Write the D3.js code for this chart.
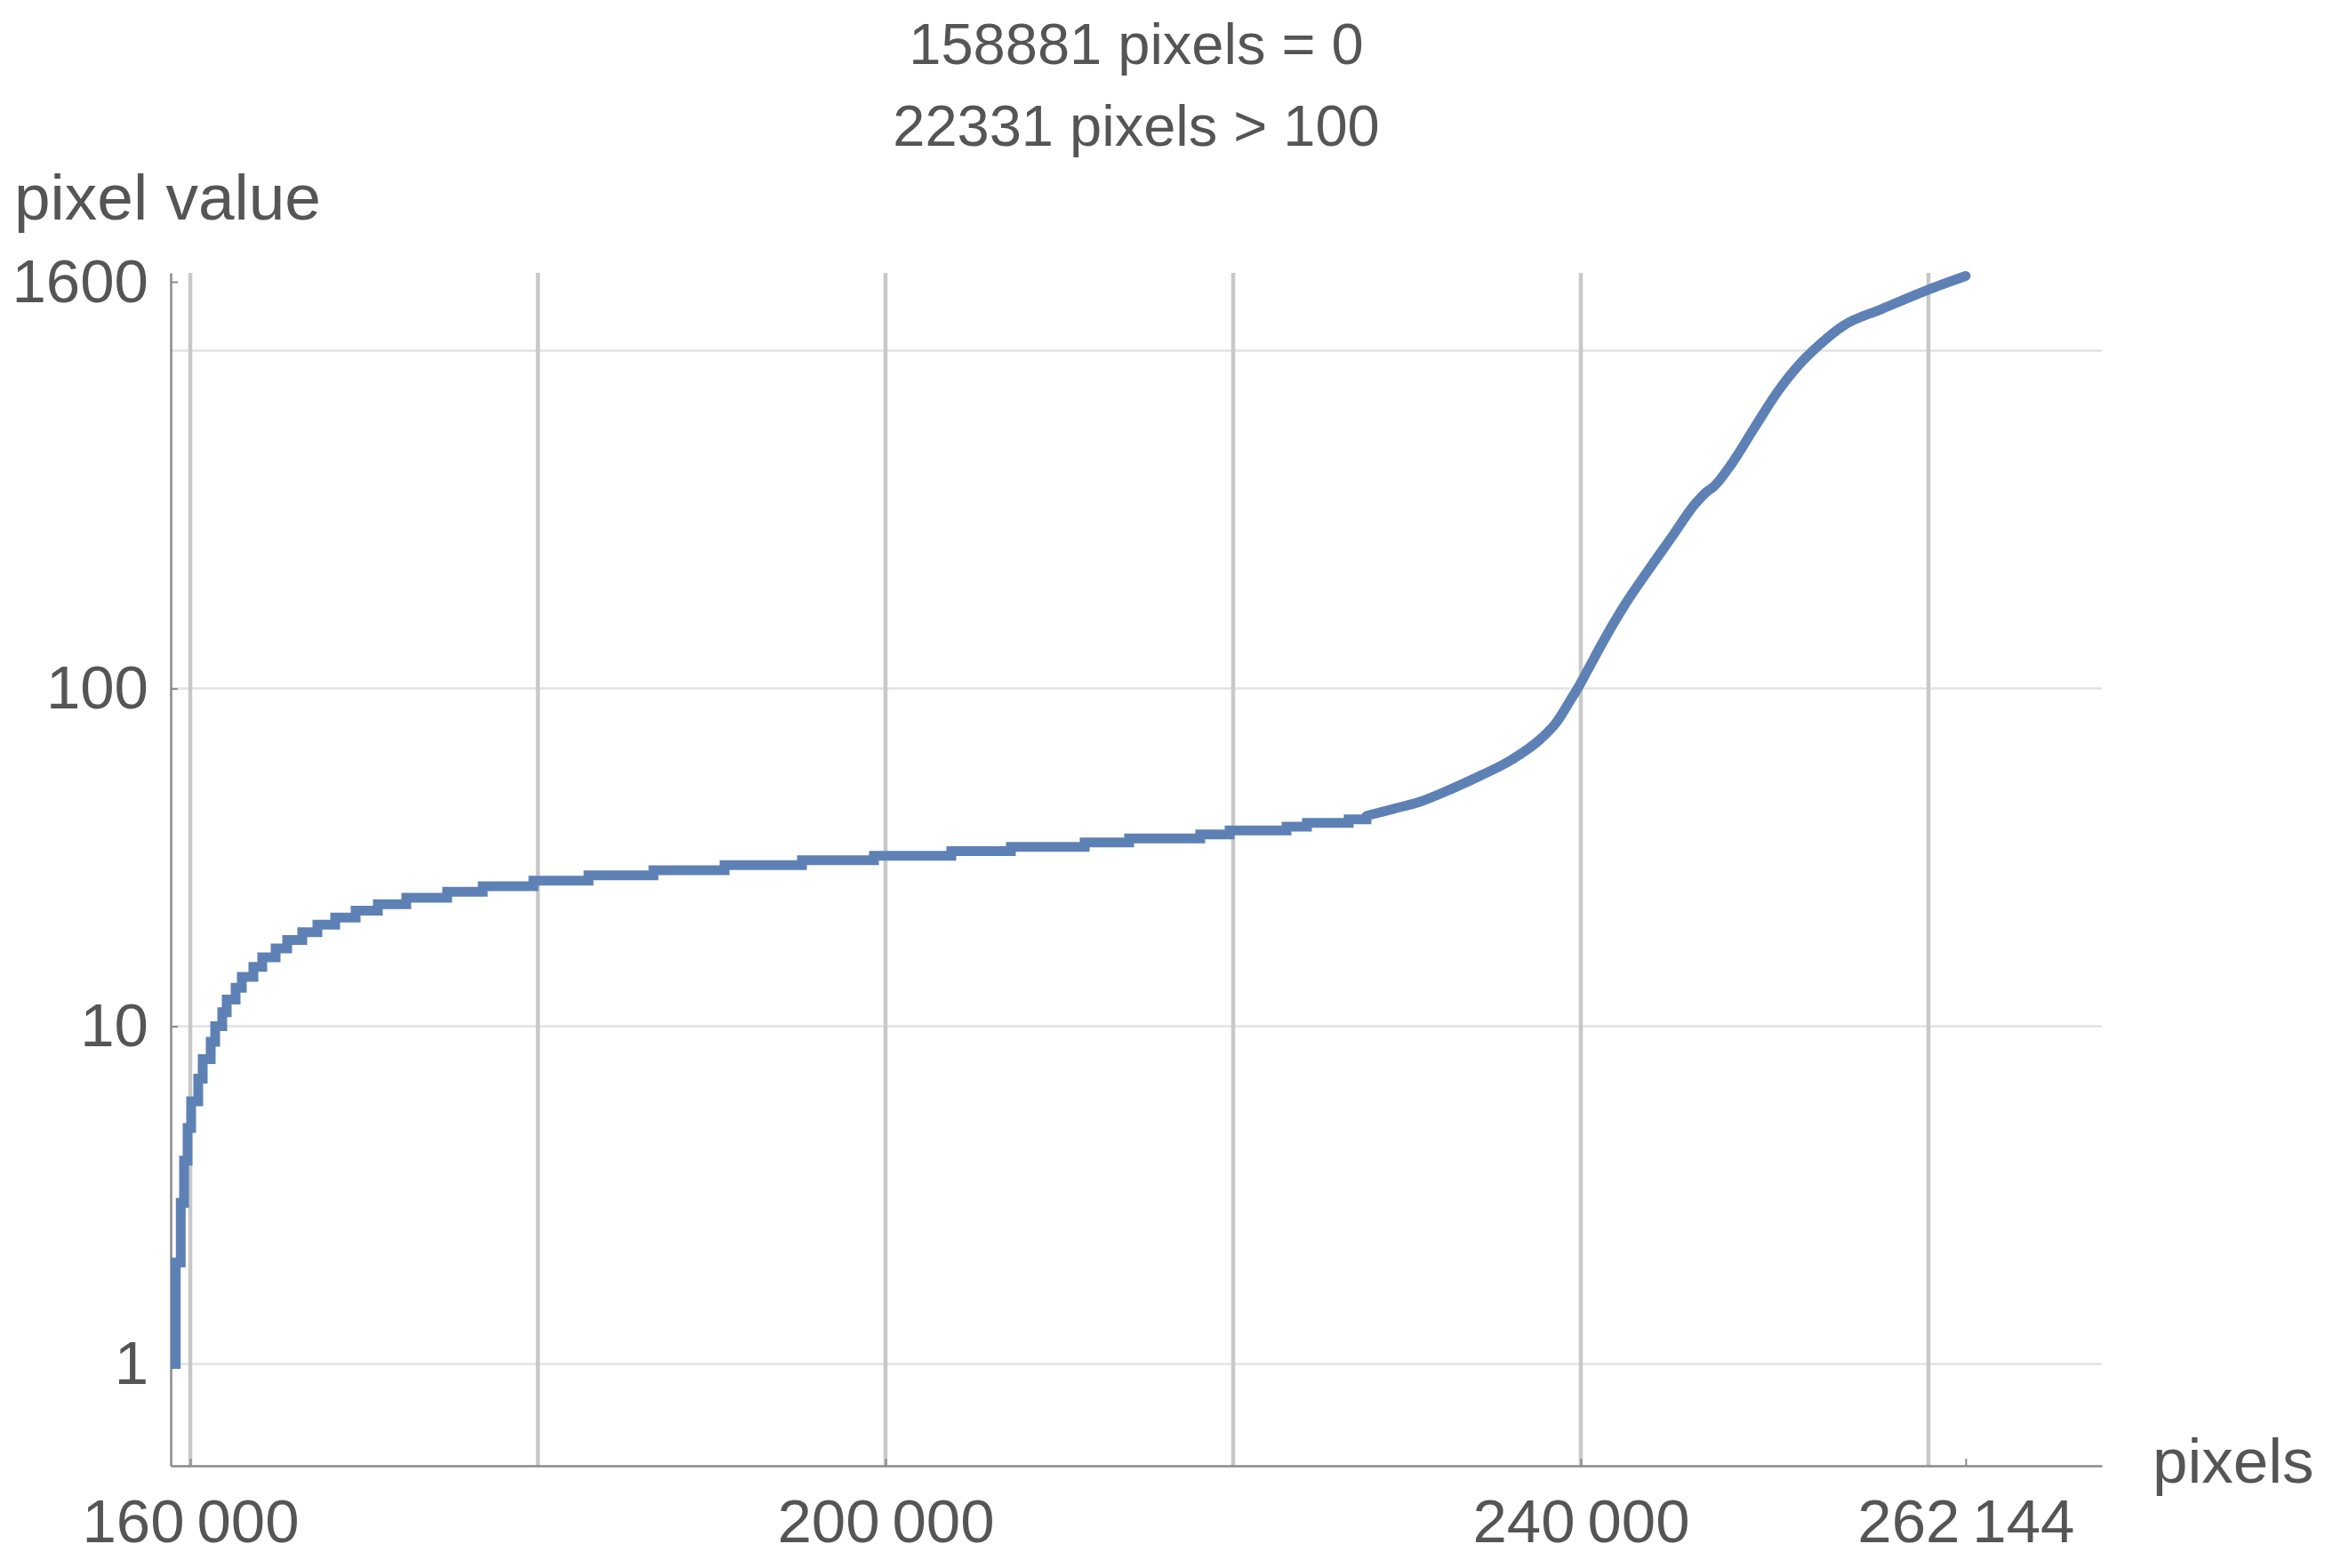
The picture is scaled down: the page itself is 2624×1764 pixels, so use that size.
<!DOCTYPE html>
<html>
<head>
<meta charset="utf-8">
<script src="https://cdn.jsdelivr.net/npm/d3@7"></script>
<style>
  html, body { margin: 0; padding: 0; background: #fff; }
  svg text { font-family: "Liberation Sans", Arial, sans-serif; fill: #555; }
</style>
</head>
<body>
<svg id="chart" width="2624" height="1764"></svg>
<script>
// ---- data ----
const titleLines = ["158881 pixels = 0", "22331 pixels > 100"];
const yAxisTitle = "pixel value";
const xAxisTitle = "pixels";

// integer-valued staircase: rank where each value starts
const stepRanks = [158882, 159166, 159453, 159642, 159847, 160051, 160460, 160716, 161176, 161432,
                   161841, 162097, 162609, 162967, 163632, 164143, 164910, 165575, 166445, 167314,
                   168337, 169514, 170793, 172429, 174782, 176828, 179744, 182915, 186649, 190741,
                   195191, 199334, 203784, 207211, 211457, 214014, 218106, 219794, 223068, 224244,
                   226648, 227671];
const stepValues = [1, 2, 3, 4, 5, 6, 7, 8, 9, 10,
                    11, 12, 13, 14, 15, 16, 17, 18, 19, 20,
                    21, 22, 23, 24, 25, 26, 27, 28, 29, 30,
                    31, 32, 33, 34, 35, 36, 37, 38, 39, 40,
                    41, 42];

// smooth upper part
const smoothRanks = [227671, 229206, 230894, 232582, 234321, 236009, 237697, 238566, 239436, 239813,
                     240500, 241123, 242504, 243834, 245215, 246597, 247262, 247620, 248643, 249973,
                     251354, 252735, 253758, 255088, 257338, 259896, 262144];
const smoothValues = [42, 44, 46.5, 50.5, 55.5, 61.5, 71, 79, 93, 100,
                      116, 133, 176, 222, 280, 353, 383, 395, 460, 590,
                      760, 930, 1045, 1185, 1330, 1510, 1665];

const xTickValues = [160000, 200000, 240000, 262144];
const xTickLabels = ["160\u2009000", "200\u2009000", "240\u2009000", "262\u2009144"];
const xGridValues = [160000, 180000, 200000, 220000, 240000, 260000];
const yTickValues = [1, 10, 100, 1600];
const yTickLabels = ["1", "10", "100", "1600"];
const yGridValues = [1, 10, 100, 1000];

// ---- layout ----
const plotLeft = 192, plotRight = 2364, plotTop = 307, plotBottom = 1649;
const svg = d3.select("#chart");

const x = d3.scaleLinear().domain([158875, 269975]).range([plotLeft, plotRight]);
const y = d3.scaleLog().domain([0.5, 1700]).range([plotBottom, plotTop]);

// grid
svg.append("g").selectAll("line").data(yGridValues).join("line")
  .attr("x1", plotLeft).attr("x2", plotRight)
  .attr("y1", d => y(d)).attr("y2", d => y(d))
  .attr("stroke", "#e2e2e2").attr("stroke-width", 2.5);
svg.append("g").selectAll("line").data(xGridValues).join("line")
  .attr("x1", d => x(d)).attr("x2", d => x(d))
  .attr("y1", plotTop).attr("y2", plotBottom)
  .attr("stroke", "#c8c8c8").attr("stroke-width", 4.5);

// axes
const fontSize = 69;
const yAxis = d3.axisLeft(y).tickValues(yTickValues)
  .tickFormat((d, i) => yTickLabels[i])
  .tickSizeInner(-8).tickSizeOuter(0).tickPadding(25);
const gy = svg.append("g").attr("transform", `translate(${plotLeft},0)`).call(yAxis);

const xAxis = d3.axisBottom(x).tickValues(xTickValues)
  .tickFormat((d, i) => xTickLabels[i])
  .tickSizeInner(-8).tickSizeOuter(0).tickPadding(37);
const gx = svg.append("g").attr("transform", `translate(0,${plotBottom})`).call(xAxis);

[gx, gy].forEach(g => {
  g.select(".domain").attr("stroke", "#8a8a8a").attr("stroke-width", 2.5);
  g.selectAll(".tick line").attr("stroke", "#8a8a8a").attr("stroke-width", 2);
  g.selectAll(".tick text").attr("font-size", fontSize)
    .attr("font-family", '"Liberation Sans", Arial, sans-serif').attr("fill", "#555");
});

// curve
const stepData = stepRanks.map((r, i) => [r, stepValues[i]]);
const smoothData = smoothRanks.map((r, i) => [r, smoothValues[i]]);
const lineColor = "#5E81B5";
const lineWidth = 11;

svg.append("path")
  .attr("d", d3.line().x(d => x(d[0])).y(d => y(d[1])).curve(d3.curveStepAfter)(stepData))
  .attr("fill", "none").attr("stroke", lineColor).attr("stroke-width", lineWidth)
  .attr("stroke-linejoin", "miter").attr("stroke-linecap", "butt");
svg.append("path")
  .attr("d", d3.line().x(d => x(d[0])).y(d => y(d[1])).curve(d3.curveMonotoneX)(smoothData))
  .attr("fill", "none").attr("stroke", lineColor).attr("stroke-width", lineWidth)
  .attr("stroke-linejoin", "round").attr("stroke-linecap", "round");

// titles
svg.append("g").selectAll("text").data(titleLines).join("text")
  .attr("x", (plotLeft + plotRight) / 2).attr("y", (d, i) => 72 + i * 92)
  .attr("text-anchor", "middle").attr("font-size", 65)
  .text(d => d);

svg.append("text").attr("x", 16).attr("y", 247)
  .attr("font-size", 73).text(yAxisTitle);
svg.append("text").attr("x", 2421).attr("y", 1668)
  .attr("font-size", 71).text(xAxisTitle);
</script>
</body>
</html>
